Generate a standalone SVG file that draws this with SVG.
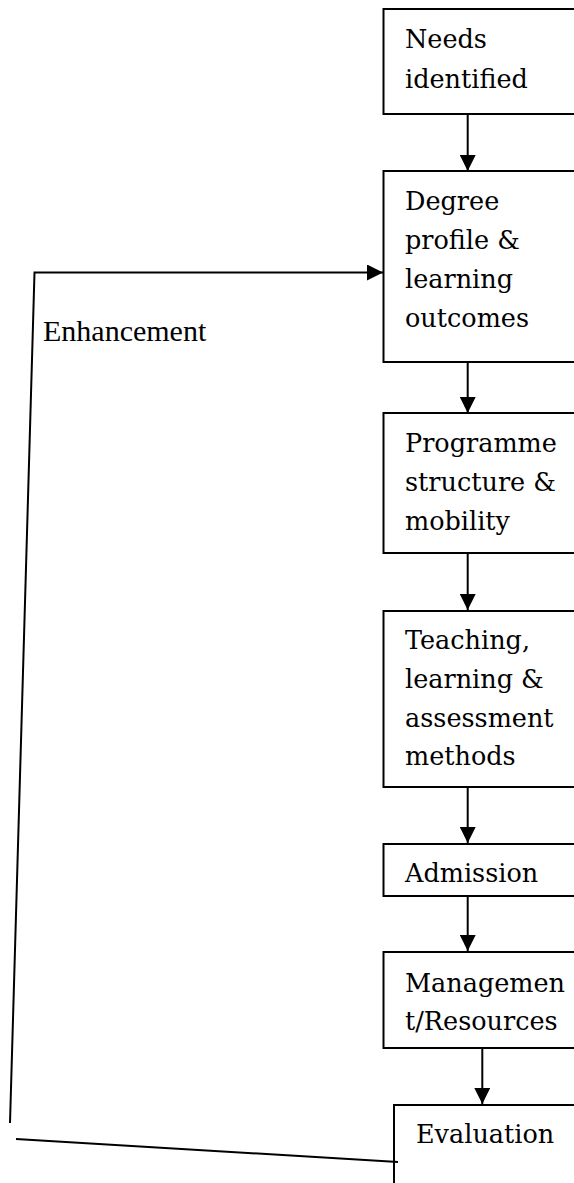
<svg xmlns="http://www.w3.org/2000/svg" width="574" height="1183" viewBox="0 0 574 1183">
<style>
.box{fill:#fff;stroke:#000;stroke-width:2}
.t{font-family:"DejaVu Serif","Liberation Serif",serif;font-size:25.5px;fill:#000}
.lbl{font-family:"Liberation Serif",serif;font-size:30px;fill:#000}
.c{fill:none;stroke:#000;stroke-width:2}
</style>
<defs>
<marker id="ah" markerWidth="16" markerHeight="16" viewBox="0 0 16 16" refX="16" refY="8" orient="auto" markerUnits="userSpaceOnUse">
<path d="M0,0 L16,8 L0,16 Z" fill="#000"/>
</marker>
</defs>
<rect width="574" height="1183" fill="#fff"/>
<g id="n1"><rect class="box" x="383.5" y="9" width="220" height="105"/><text class="t" x="405" y="48">Needs</text><text class="t" x="405" y="88">identified</text></g>
<g id="n2"><rect class="box" x="383.5" y="171" width="220" height="191"/><text class="t" x="405" y="210">Degree</text><text class="t" x="405" y="249">profile &amp;</text><text class="t" x="405" y="288">learning</text><text class="t" x="405" y="327">outcomes</text></g>
<g id="n3"><rect class="box" x="383.5" y="413" width="220" height="140"/><text class="t" x="405" y="452">Programme</text><text class="t" x="405" y="491">structure &amp;</text><text class="t" x="405" y="530">mobility</text></g>
<g id="n4"><rect class="box" x="383.5" y="611" width="220" height="176"/><text class="t" x="405" y="649">Teaching,</text><text class="t" x="405" y="688">learning &amp;</text><text class="t" x="405" y="727">assessment</text><text class="t" x="405" y="765">methods</text></g>
<g id="n5"><rect class="box" x="383.5" y="844" width="220" height="52"/><text class="t" x="405" y="882">Admission</text></g>
<g id="n6"><rect class="box" x="383.5" y="952" width="220" height="96"/><text class="t" x="405" y="992">Managemen</text><text class="t" x="405" y="1030">t/Resources</text></g>
<g id="n7"><path class="c" d="M600 1105 H394 V1190"/><text class="t" x="416" y="1143">Evaluation</text></g>
<g id="lbl"><text class="lbl" x="43" y="341">Enhancement</text></g>
<g id="connectors">
<line class="c" x1="467.7" y1="115" x2="467.7" y2="171" marker-end="url(#ah)"/>
<line class="c" x1="467.7" y1="363" x2="467.7" y2="413" marker-end="url(#ah)"/>
<line class="c" x1="467.7" y1="554" x2="467.7" y2="610" marker-end="url(#ah)"/>
<line class="c" x1="467.7" y1="788" x2="467.7" y2="843" marker-end="url(#ah)"/>
<line class="c" x1="467.7" y1="897" x2="467.7" y2="951" marker-end="url(#ah)"/>
<line class="c" x1="482.3" y1="1049" x2="482.3" y2="1104" marker-end="url(#ah)"/>
<path class="c" d="M10 1123 L34.5 272.5 H383" marker-end="url(#ah)"/>
<line class="c" x1="16" y1="1139" x2="398" y2="1162"/>
</g>
</svg>
